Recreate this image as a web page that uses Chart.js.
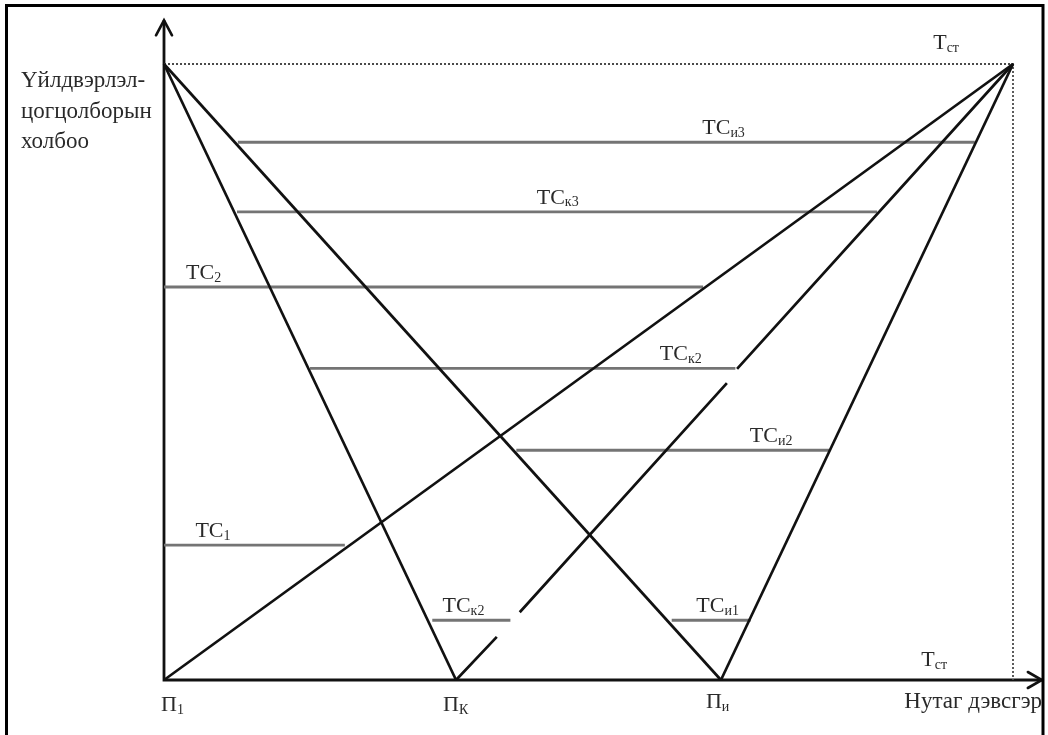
<!DOCTYPE html>
<html>
<head>
<meta charset="utf-8">
<script src="https://cdn.jsdelivr.net/npm/chart.js@4.4.0/dist/chart.umd.min.js"></script>
<style>
html,body{margin:0;padding:0;background:#fff;}
#wrap{position:relative;width:1048px;height:735px;}
canvas{display:block;}
</style>
</head>
<body>
<div id="wrap"><canvas id="c" width="1048" height="735"></canvas></div>
<script>
// ---- Data (abstract units: x 0..100 territory, y 0..100 linkage) ----
const pointNames = ["П1", "Пк", "Пи", "Tст"];
const pointX = [0, 34.4, 65.6, 100];
const topY = 100;

// ray lines: [x0,y0,x1,y1]
const rayFromTopToPk = [0, 100, 34.4, 0];
const rayFromTopToPi = [0, 100, 65.6, 0];
const rayP1ToTst = [0, 0, 100, 100];
const rayPiToTst = [65.6, 0, 100, 100];
// broken ray Pk -> Tst (segments)
const rayPkToTstX = [34.4, 39.2, null, 41.9, 66.3, null, 67.5, 100];
const rayPkToTstY = [0, 7.0, null, 11.0, 48.2, null, 50.5, 100];

// horizontal cost levels
const levelNames = ["TCи3", "TCк3", "TC2", "TCк2", "TCи2", "TC1", "TCк2", "TCи1"];
const levelY     = [87.3, 76.0, 63.8, 50.6, 37.3, 21.9, 9.7, 9.7];
const levelX0    = [8.7, 8.6, 0, 17.2, 41.5, 0, 31.6, 59.8];
const levelX1    = [95.5, 84.0, 63.5, 67.3, 78.4, 21.3, 40.8, 69.1];

const yAxisTitle = ["Үйлдвэрлэл-", "цогцолборын", "холбоо"];
const xAxisTitle = "Нутаг дэвсгэр";

// ---- build datasets ----
const pts = (a) => [{x:a[0], y:a[1]}, {x:a[2], y:a[3]}];
const datasets = [];
const dark = '#111';
const grey = '#747474';
[rayFromTopToPk, rayFromTopToPi, rayP1ToTst, rayPiToTst].forEach(r => {
  datasets.push({data: pts(r), borderColor: dark, borderWidth: 2.7, showLine: true, pointRadius: 0, clip: false});
});
datasets.push({
  data: rayPkToTstX.map((x, i) => ({x: x === null ? 50 : x, y: rayPkToTstY[i]})),
  borderColor: dark, borderWidth: 2.7, showLine: true, pointRadius: 0, spanGaps: false, clip: false
});
levelY.forEach((y, i) => {
  datasets.push({data: [{x: levelX0[i], y: y}, {x: levelX1[i], y: y}], borderColor: grey, borderWidth: 2.8, showLine: true, pointRadius: 0, clip: false});
});
// dotted frame lines at top-level / Tst
datasets.push({data: [{x: 0, y: topY}, {x: 100, y: topY}, {x: 100, y: 0}], borderColor: '#4a4a4a', borderWidth: 1.8, borderDash: [2, 2], showLine: true, pointRadius: 0, clip: false});
// axes
datasets.push({data: [{x: 0, y: 107.1}, {x: 0, y: 0}, {x: 103.4, y: 0}], borderColor: '#111', borderWidth: 2.8, showLine: true, pointRadius: 0, clip: false});

// ---- annotation plugin ----
const serif = '"Liberation Serif", "DejaVu Serif", serif';
function subText(ctx, x, y, main, sub, size, color) {
  ctx.fillStyle = color;
  ctx.font = size + 'px ' + serif;
  ctx.textAlign = 'left';
  ctx.textBaseline = 'alphabetic';
  ctx.fillText(main, x, y);
  const w = ctx.measureText(main).width;
  ctx.font = Math.round(size * 0.62) + 'px ' + serif;
  ctx.fillText(sub, x + w, y + size * 0.12);
}
const labelLayout = [
  {i: 0, x: 63.4}, {i: 1, x: 43.9}, {i: 2, x: 2.6}, {i: 3, x: 58.4},
  {i: 4, x: 69.0}, {i: 5, x: 3.7}, {i: 6, x: 32.8}, {i: 7, x: 62.7}
];
const annot = {
  id: 'annot',
  afterDraw(chart) {
    const ctx = chart.ctx, xs = chart.scales.x, ys = chart.scales.y;
    ctx.save();
    const col = '#2a2a2a';
    const fs = 22;
    // arrow heads
    ctx.strokeStyle = '#111'; ctx.lineWidth = 2.6; ctx.lineCap = 'round';
    const ax = xs.getPixelForValue(0), ayT = ys.getPixelForValue(107.1);
    ctx.beginPath(); ctx.moveTo(ax - 8, ayT + 15); ctx.lineTo(ax, ayT); ctx.lineTo(ax + 8, ayT + 15); ctx.stroke();
    const bx = xs.getPixelForValue(103.4), by = ys.getPixelForValue(0);
    ctx.beginPath(); ctx.moveTo(bx - 14, by - 8); ctx.lineTo(bx, by); ctx.lineTo(bx - 14, by + 8); ctx.stroke();

    // level labels
    labelLayout.forEach(l => {
      const name = levelNames[l.i];
      const px = xs.getPixelForValue(l.x), py = ys.getPixelForValue(levelY[l.i]) - 8;
      subText(ctx, px, py, 'TC', name.slice(2), fs, col);
    });
    // point labels on x axis
    const baseY = ys.getPixelForValue(0) + 31;
    subText(ctx, xs.getPixelForValue(pointX[0]) - 3, baseY, 'П', '1', fs, col);
    subText(ctx, xs.getPixelForValue(pointX[1]) - 13, baseY, 'П', 'К', fs, col);
    subText(ctx, xs.getPixelForValue(pointX[2]) - 15, baseY - 3, 'П', 'и', fs, col);
    // Tst labels
    subText(ctx, xs.getPixelForValue(90.6), ys.getPixelForValue(topY) - 15, 'T', 'ст', fs, col);
    subText(ctx, xs.getPixelForValue(89.2), ys.getPixelForValue(0) - 14, 'T', 'ст', fs, col);
    // axis titles
    ctx.font = '23px ' + serif; ctx.fillStyle = col; ctx.textAlign = 'left';
    ctx.fillText(xAxisTitle, xs.getPixelForValue(87.2), baseY - 3);
    yAxisTitle.forEach((t, k) => ctx.fillText(t, 21, 87 + k * 30.5));
    // outer frame
    ctx.fillStyle = '#fff'; ctx.fillRect(1044.5, 0, 10, 735);
    ctx.strokeStyle = '#000'; ctx.lineWidth = 3;
    ctx.strokeRect(6.5, 5.5, 1036.5, 760);
    ctx.restore();
  }
};

new Chart(document.getElementById('c'), {
  type: 'scatter',
  data: {datasets},
  options: {
    responsive: false,
    animation: false,
    layout: {padding: {left: 164, right: 35, top: 64, bottom: 55}},
    plugins: {legend: {display: false}, tooltip: {enabled: false}},
    scales: {
      x: {type: 'linear', min: 0, max: 100, display: false},
      y: {type: 'linear', min: 0, max: 100, display: false}
    },
    elements: {line: {tension: 0, borderCapStyle: 'butt'}}
  },
  plugins: [annot]
});
</script>
</body>
</html>
